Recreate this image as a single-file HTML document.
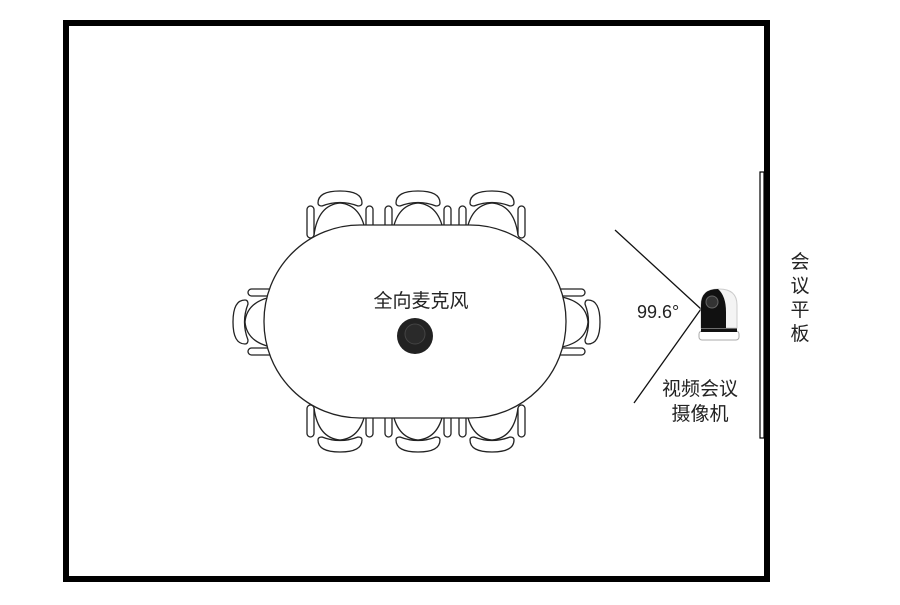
<!DOCTYPE html>
<html><head><meta charset="utf-8"><style>
body{margin:0;background:#fff}
text{font-family:"Liberation Sans","Noto Sans CJK SC",sans-serif;fill:#222}
</style></head><body>
<svg width="900" height="600" viewBox="0 0 900 600" xmlns="http://www.w3.org/2000/svg">
<defs>
<g id="ch" fill="#fff" stroke="#222" stroke-width="1.3">
 <path d="M-26,44 Q-22,14 0,12 Q22,14 26,44"/>
 <path d="M-22,12 Q-22,0 0,0 Q22,0 22,12 Q22,15 18,15 Q0,8 -18,15 Q-22,15 -22,12 Z"/>
 <rect x="-33" y="15" width="7" height="32" rx="3.5"/>
 <rect x="26" y="15" width="7" height="32" rx="3.5"/>
</g>
</defs>
<rect x="66" y="23" width="701" height="556" fill="none" stroke="#000" stroke-width="6"/>
<rect x="760" y="172" width="4" height="266" fill="#fff" stroke="#000" stroke-width="1.2"/>
<use href="#ch" transform="translate(340,191)"/>
<use href="#ch" transform="translate(418,191)"/>
<use href="#ch" transform="translate(492,191)"/>
<use href="#ch" transform="translate(340,452) scale(1,-1)"/>
<use href="#ch" transform="translate(418,452) scale(1,-1)"/>
<use href="#ch" transform="translate(492,452) scale(1,-1)"/>
<use href="#ch" transform="translate(233,322) rotate(-90)"/>
<use href="#ch" transform="translate(600,322) rotate(90)"/>
<rect x="264" y="225" width="302" height="193" rx="96" ry="96" fill="#fff" stroke="#222" stroke-width="1.3"/>
<text x="421" y="307" font-size="19" text-anchor="middle">全向麦克风</text>
<circle cx="415" cy="336" r="18" fill="#222"/>
<circle cx="415" cy="334" r="10" fill="#2a2a2a" stroke="#444"/>
<line x1="615" y1="230" x2="701" y2="309" stroke="#111" stroke-width="1.3"/>
<line x1="634" y1="403" x2="701" y2="309" stroke="#111" stroke-width="1.3"/>
<text x="637" y="318" font-size="18">99.6°</text>
<rect x="699" y="331" width="40" height="9" rx="3" fill="#fff" stroke="#aaa"/>
<rect x="701" y="326" width="36" height="6" fill="#111"/>
<path d="M701,328 L701,305 Q701,289 719,289 Q737,289 737,305 L737,328 Z" fill="#f4f4f4" stroke="#ccc"/>
<path d="M701,328 L701,305 Q701,289 718,289 Q726,296 726,312 L726,328 Z" fill="#111"/>
<circle cx="712" cy="302" r="6" fill="#333" stroke="#666"/>
<text x="700" y="395" font-size="19" text-anchor="middle">视频会议</text>
<text x="700" y="420" font-size="19" text-anchor="middle">摄像机</text>
<text x="800" y="268" font-size="19" text-anchor="middle">会</text>
<text x="800" y="292" font-size="19" text-anchor="middle">议</text>
<text x="800" y="316" font-size="19" text-anchor="middle">平</text>
<text x="800" y="340" font-size="19" text-anchor="middle">板</text>
</svg>
</body></html>
